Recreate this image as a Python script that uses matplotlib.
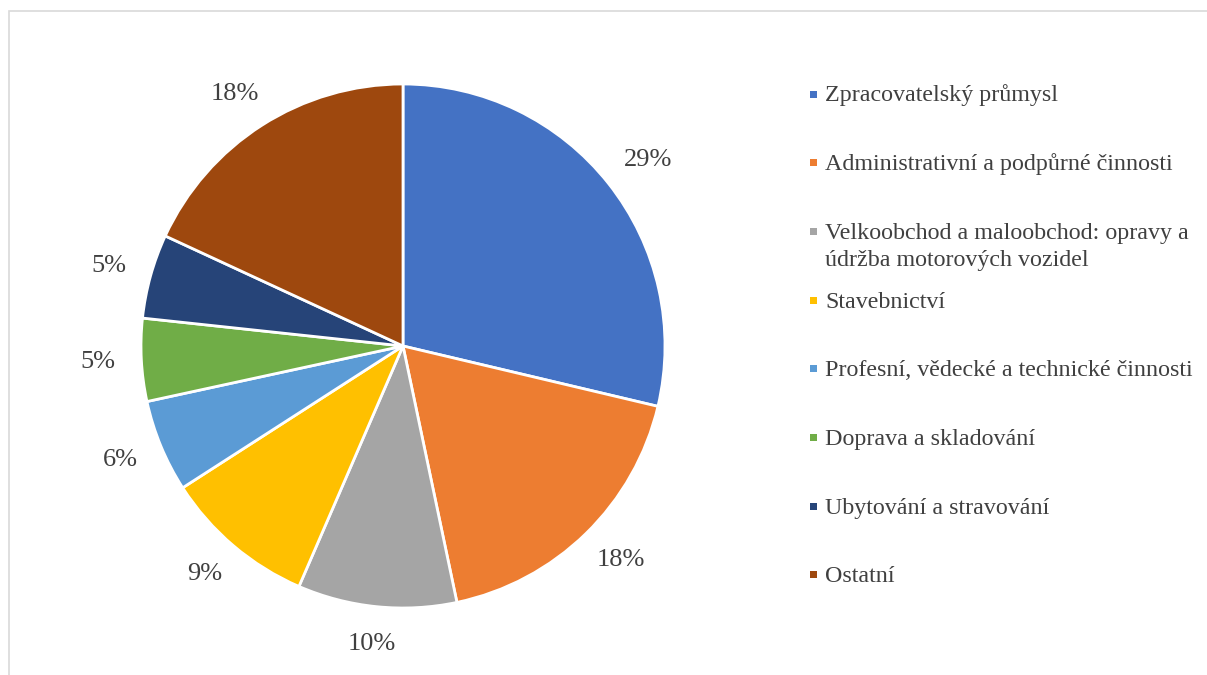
import numpy as np
import matplotlib.pyplot as plt
from matplotlib.patches import Rectangle

plt.rcParams['font.family'] = ['Liberation Serif', 'DejaVu Serif']

categories = ['Zpracovatelský průmysl',
              'Administrativní a podpůrné činnosti',
              'Velkoobchod a maloobchod: opravy a\núdržba motorových vozidel',
              'Stavebnictví',
              'Profesní, vědecké a technické činnosti',
              'Doprava a skladování',
              'Ubytování a stravování',
              'Ostatní']
shares = [28.7, 18.0, 9.8, 9.4, 5.7, 5.1, 5.2, 18.1]
colors = ['#4472C4', '#ED7D31', '#A5A5A5', '#FFC000',
          '#5B9BD5', '#70AD47', '#264478', '#9E480E']

W, H = 1207, 675
text_col = '#404040'

fig = plt.figure(figsize=(W / 100, H / 100), dpi=100)

# light frame (only top and left edges fall inside the image)
fig.patches.append(Rectangle((9 / W, -0.1), 1.2, 1 - 11 / H + 0.1,
                             transform=fig.transFigure, fill=False,
                             edgecolor='#D9D9D9', linewidth=1.2))

# pie axes: centre (403, 346) px, radius 262 px
R = 262
s = 1.3
side = 2 * R * s
cx, cy = 403, H - 346
ax = fig.add_axes([(cx - side / 2) / W, (cy - side / 2) / H, side / W, side / H])
wedges, _ = ax.pie(shares, colors=colors, startangle=90, counterclock=False,
                   wedgeprops=dict(edgecolor='white', linewidth=2))
ax.set_xlim(-s, s)
ax.set_ylim(-s, s)
ax.set_aspect('equal')
ax.axis('off')

# outside-end labels: text box just touching a circle slightly outside the rim
renderer = fig.canvas.get_renderer()
px = side / (2 * s)  # pixels per data unit
total = sum(shares)
for w, v in zip(wedges, shares):
    ang = np.deg2rad((w.theta1 + w.theta2) / 2)
    c, sn = np.cos(ang), np.sin(ang)
    t = ax.text(0, 0, '%.0f%%' % (100 * v / total), fontsize=19,
                color=text_col, ha='center', va='center')
    bb = t.get_window_extent(renderer)
    k = 1.1
    t.set_position((k * c + c * bb.width / 2 / px,
                    k * sn + sn * bb.height / 2 / px))

# legend drawn by hand, Excel-like spacing
y0, step, line_h = 101.5, 68.7, 27
for i, (name, col) in enumerate(zip(categories, colors)):
    yb = y0 + i * step
    fig.patches.append(Rectangle((810 / W, 1 - (yb - 4) / H), 7 / W, 7 / H,
                                 transform=fig.transFigure, facecolor=col,
                                 edgecolor='none'))
    for j, line in enumerate(name.split('\n')):
        fig.text(825 / W, 1 - (yb + j * line_h) / H, line, fontsize=17.3,
                 color=text_col, ha='left', va='baseline')

fig.savefig('out.png', dpi=100)
